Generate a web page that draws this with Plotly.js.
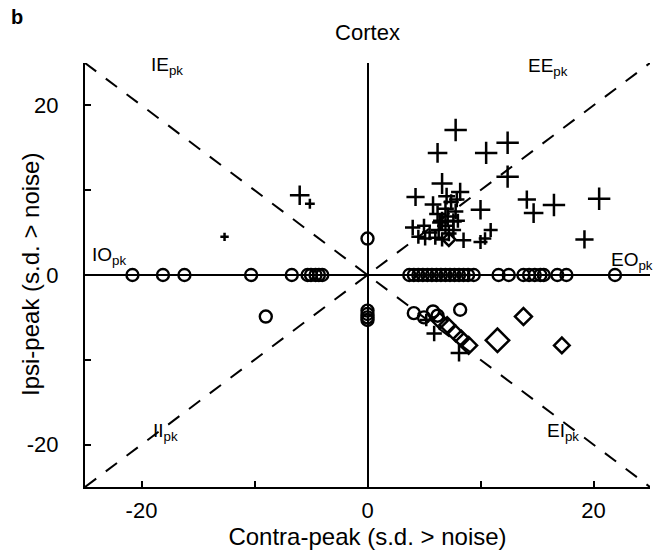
<!DOCTYPE html>
<html>
<head>
<meta charset="utf-8">
<script src="https://cdn.plot.ly/plotly-3.0.1.min.js"></script>
<style>html,body{margin:0;padding:0;background:#fff;}#chart{width:667px;height:552px;}</style>
</head>
<body>
<div id="chart"></div>
<script>
// ---- data ----
// Circles (responses on one side only / weak)
var circleX = [-20.8, -18.1, -16.2, -10.3, -6.7, -5.3, -5.0, -4.6, -4.3, -4.0,
  3.7, 4.1, 4.5, 4.9, 5.3, 5.7, 6.1, 6.5, 6.9, 7.3, 7.7, 8.1, 8.5, 8.9, 9.4,
  11.6, 12.5, 13.8, 14.3, 14.8, 15.3, 15.6, 16.8, 17.6, 21.9,
  0, 0, 0, 0, 0,
  -9.0, 4.1, 5.0, 5.8, 6.2, 8.2];
var circleY = [0, 0, 0, 0, 0, 0, 0, 0, 0, 0,
  0, 0, 0, 0, 0, 0, 0, 0, 0, 0, 0, 0, 0, 0, 0,
  0, 0, 0, 0, 0, 0, 0, 0, 0, 0,
  4.3, -4.2, -4.6, -5.0, -5.3,
  -4.9, -4.5, -5.0, -4.3, -4.8, -4.1];

// Crosses (EE-type responses); magnitude drives symbol size
var crossX = [7.8, 6.2, 10.5, 12.4, 12.4, 6.6, 4.25, 8.2, 10.0, 14.1, 14.7, 16.5, 20.5, 19.2,
  4.0, 4.5, 10.9, 10.0, 8.5, 10.4,
  5.8, 6.2, 6.6, 6.9, 7.1, 7.4, 7.6, 7.8, 6.9, 6.3, 5.5, 6.0, 5.1, 7.6, 8.0, 7.2, 6.6, 5.0, 6.4, 7.9, 7.0,
  -12.65, -6.0, -5.1,
  5.9, 8.1, 5.2];
var crossY = [17.1, 14.4, 14.4, 15.6, 11.6, 10.8, 9.2, 9.8, 7.7, 8.9, 7.3, 8.25, 9.0, 4.2,
  5.6, 4.5, 5.3, 3.9, 4.1, 4.3,
  8.3, 7.2, 6.4, 7.8, 6.9, 8.6, 6.3, 7.5, 5.8, 5.3, 5.0, 4.4, 4.3, 5.3, 6.4, 4.9, 4.2, 5.8, 6.2, 8.9, 9.3,
  4.5, 9.4, 8.4,
  -6.9, -9.2, -5.3];
var crossMag = [16, 14, 16, 16, 16, 15, 13, 13, 14, 13, 14, 16, 16, 13,
  11, 10, 10, 10, 11, 9,
  12, 12, 13, 12, 13, 11, 12, 11, 12, 11, 11, 10, 10, 11, 10, 11, 10, 10, 11, 11, 12,
  6, 14, 7,
  11, 12, 9];

// Diamonds (EI-type responses)
var diamondX = [6.4, 7.05, 7.8, 8.3, 8.95, 11.5, 13.8, 17.2, 7.2];
var diamondY = [-5.4, -5.9, -6.9, -7.5, -8.3, -7.7, -4.9, -8.3, 4.2];
var diamondMag = [12, 12, 12, 12, 13, 18, 13, 12, 10];

// Quadrant labels
var labelText = ['IE<sub>pk</sub>', 'EE<sub>pk</sub>', 'IO<sub>pk</sub>', 'EO<sub>pk</sub>', 'II<sub>pk</sub>', 'EI<sub>pk</sub>'];
var labelX = [-17.7, 16.0, -22.9, 23.4, -17.9, 17.3];
var labelY = [24.7, 24.5, 2.3, 1.6, -18.5, -18.5];

var tickVals = [-20, 0, 20];
var tickText = ['-20', '0', '20'];
var minorTickVals = [-10, 10];
var axisRange = [-25, 25];

// ---- chart ----
var FONT = 'Arial, "Liberation Sans", Helvetica, sans-serif';
var traces = [
  {type: 'scatter', mode: 'markers', x: circleX, y: circleY, hoverinfo: 'skip',
   marker: {symbol: 'circle-open', size: 12, opacity: 1, color: '#000', line: {color: '#000', width: 2.4}}},
  {type: 'scatter', mode: 'markers', x: crossX, y: crossY, hoverinfo: 'skip',
   marker: {symbol: 'cross-thin-open', size: crossMag, opacity: 1, color: '#000', line: {color: '#000', width: 2.5}}},
  {type: 'scatter', mode: 'markers', x: diamondX, y: diamondY, hoverinfo: 'skip',
   marker: {symbol: 'diamond-open', size: diamondMag, opacity: 1, color: '#000', line: {color: '#000', width: 2.5}}}
];

var annotations = labelText.map(function (t, i) {
  return {x: labelX[i], y: labelY[i], xref: 'x', yref: 'y', text: t, showarrow: false,
    xanchor: 'center', yanchor: 'middle', font: {family: FONT, size: 19, color: '#000'}};
});
annotations.push({xref: 'paper', yref: 'paper', x: -0.135, y: 1.108, text: '<b>b</b>', showarrow: false,
  xanchor: 'left', yanchor: 'middle', font: {family: FONT, size: 20, color: '#000'}});
annotations.push({xref: 'paper', yref: 'paper', x: (30 - 85) / 565, y: 0.5, text: 'Ipsi-peak (s.d. > noise)',
  textangle: -90, showarrow: false, xanchor: 'center', yanchor: 'middle',
  font: {family: FONT, size: 24, color: '#000'}});

var axisCommon = {
  range: axisRange, showgrid: false, zeroline: true, zerolinecolor: '#000', zerolinewidth: 2,
  showline: true, linecolor: '#000', linewidth: 2, ticks: 'inside', ticklen: 6, tickwidth: 2, tickcolor: '#000',
  tickmode: 'array', tickvals: tickVals, ticktext: tickText,
  minor: {tickmode: 'array', tickvals: minorTickVals, ticks: 'inside', ticklen: 6, tickwidth: 2, tickcolor: '#000', showgrid: false},
  tickfont: {family: FONT, size: 22, color: '#000'}, fixedrange: true
};

var layout = {
  width: 667, height: 552,
  margin: {l: 85, r: 17, t: 63, b: 65},
  paper_bgcolor: '#fff', plot_bgcolor: '#fff',
  showlegend: false,
  title: {text: 'Cortex', x: 0.5, xref: 'paper', y: 1 - 32 / 552, yref: 'container', yanchor: 'middle',
    font: {family: FONT, size: 22, color: '#000'}},
  xaxis: Object.assign({}, axisCommon, {
    ticklabelstandoff: 3,
    title: {text: 'Contra-peak (s.d. > noise)', font: {family: FONT, size: 24, color: '#000'}, standoff: 2}
  }),
  yaxis: Object.assign({}, axisCommon, {
    ticklabelstandoff: 20
  }),
  shapes: [
    {type: 'line', xref: 'x', yref: 'y', x0: -25, y0: 25, x1: 25, y1: -25,
     line: {color: '#000', width: 2, dash: '14px,12px'}},
    {type: 'line', xref: 'x', yref: 'y', x0: -25, y0: -25, x1: 25, y1: 25,
     line: {color: '#000', width: 2, dash: '14px,12px'}}
  ],
  annotations: annotations
};

Plotly.newPlot('chart', traces, layout, {staticPlot: true, displayModeBar: false});
</script>
</body>
</html>
